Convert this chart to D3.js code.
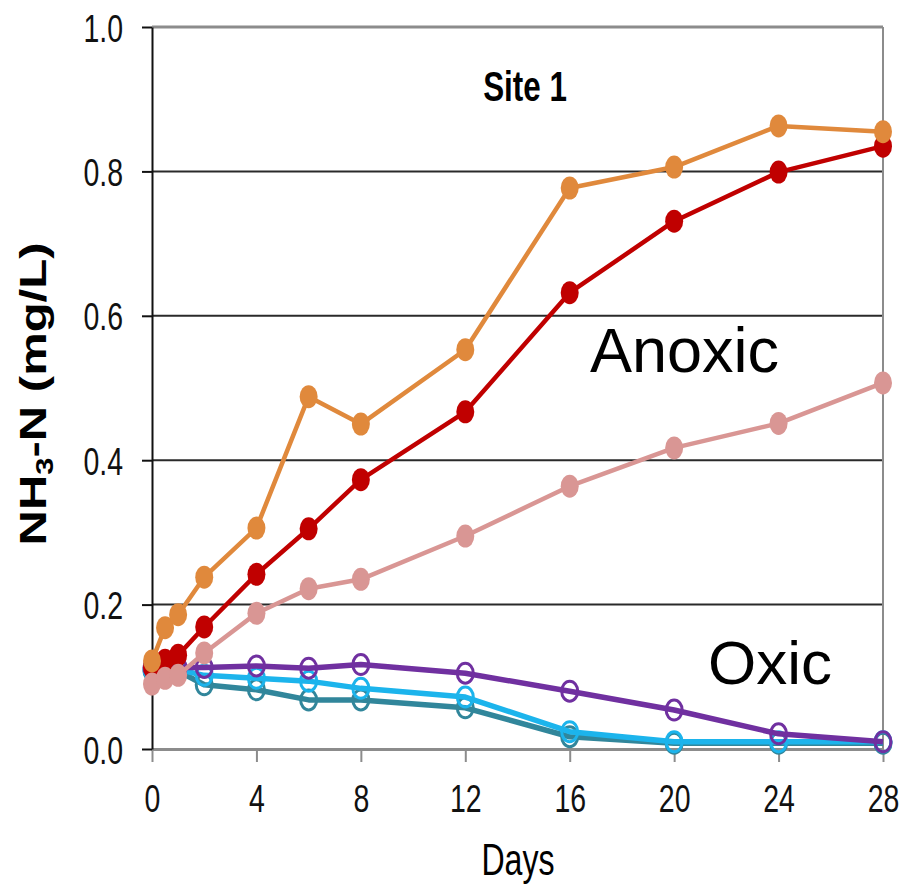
<!DOCTYPE html>
<html>
  <head>
    <meta charset="utf-8">
    <title>Site 1</title>
    <script src="https://d3js.org/d3.v7.min.js"></script>
    <style>
      body { margin: 0; background: #fff; }
      text { font-family: "Liberation Sans", Arial, sans-serif; }
    </style>
  </head>
  <body>
    <div id="chart"></div>
    <script>
      // data
      var days = [0, 0.5, 1, 2, 4, 6, 8, 12, 16, 20, 24, 28];
      var xTicks = [0, 4, 8, 12, 16, 20, 24, 28];
      var yTicks = [0, 0.2, 0.4, 0.6, 0.8, 1.0];

      // anoxic (filled markers)
      var anoxicRed    = [0.113, 0.123, 0.130, 0.169, 0.242, 0.305, 0.373, 0.467, 0.632, 0.731, 0.799, 0.835];
      var anoxicPink   = [0.090, 0.098, 0.102, 0.133, 0.188, 0.222, 0.235, 0.295, 0.364, 0.417, 0.451, 0.507];
      var anoxicOrange = [0.122, 0.168, 0.186, 0.238, 0.306, 0.488, 0.450, 0.553, 0.777, 0.806, 0.863, 0.855];

      // oxic (open markers)
      var oxicTeal   = [0.108, 0.108, 0.108, 0.089, 0.082, 0.068, 0.068, 0.057, 0.017, 0.008, 0.008, 0.008];
      var oxicBlue   = [0.110, 0.110, 0.110, 0.102, 0.098, 0.094, 0.084, 0.072, 0.024, 0.010, 0.010, 0.010];
      var oxicPurple = [0.113, 0.113, 0.113, 0.113, 0.115, 0.112, 0.117, 0.105, 0.080, 0.054, 0.021, 0.010];

      var series = [
        {values: oxicTeal,     color: "#31869b", filled: false},
        {values: oxicBlue,     color: "#1cb4ec", filled: false},
        {values: oxicPurple,   color: "#7030a0", filled: false},
        {values: anoxicRed,    color: "#c00000", filled: true},
        {values: anoxicPink,   color: "#d99694", filled: true},
        {values: anoxicOrange, color: "#e0893c", filled: true}
      ];

      var W = 904, H = 887;
      var plotL = 152, plotR = 883, plotT = 27, plotB = 749;
      var sx = 0.73; // original picture is squeezed horizontally

      var x = d3.scaleLinear().domain([0, 28]).range([plotL, plotR]);
      var y = d3.scaleLinear().domain([0, 1]).range([plotB, plotT]);

      var svg = d3.select("#chart").append("svg")
        .attr("width", W)
        .attr("height", H);

      // gridlines
      svg.append("g")
        .selectAll("line")
        .data([0.2, 0.4, 0.6, 0.8])
        .enter().append("line")
        .attr("x1", plotL).attr("x2", plotR)
        .attr("y1", d => y(d)).attr("y2", d => y(d))
        .attr("stroke", "#2a2a2a")
        .attr("stroke-width", 2);

      // top and right border (gray)
      svg.append("line")
        .attr("x1", plotL).attr("x2", plotR)
        .attr("y1", y(1)).attr("y2", y(1))
        .attr("stroke", "#8c8c8c").attr("stroke-width", 3);
      svg.append("line")
        .attr("x1", plotR).attr("x2", plotR)
        .attr("y1", y(1)).attr("y2", y(0))
        .attr("stroke", "#8c8c8c").attr("stroke-width", 2);

      // x axis
      var xAxis = svg.append("g")
        .attr("transform", "translate(0," + plotB + ")")
        .call(d3.axisBottom(x).tickValues(xTicks).tickSize(13).tickSizeOuter(0));
      xAxis.select(".domain").attr("stroke", "#8c8c8c").attr("stroke-width", 3);
      xAxis.selectAll(".tick line").attr("stroke", "#8c8c8c").attr("stroke-width", 2);
      xAxis.selectAll(".tick text")
        .attr("y", null).attr("dy", null)
        .attr("transform", "translate(0,63) scale(" + sx + ",1)")
        .attr("font-size", 39)
        .attr("fill", "#111")
        .attr("font-family", "Liberation Sans, Arial, sans-serif");

      // y axis
      var yAxis = svg.append("g")
        .attr("transform", "translate(" + plotL + ",0)")
        .call(d3.axisLeft(y).tickValues(yTicks).tickFormat(d3.format(".1f")).tickSize(10).tickSizeOuter(0));
      yAxis.select(".domain").attr("stroke", "#111").attr("stroke-width", 2);
      yAxis.selectAll(".tick line").attr("stroke", "#111").attr("stroke-width", 2);
      yAxis.selectAll(".tick text")
        .attr("x", null).attr("dy", null)
        .attr("transform", "translate(-29,14) scale(" + sx + ",1)")
        .attr("font-size", 39)
        .attr("fill", "#111")
        .attr("font-family", "Liberation Sans, Arial, sans-serif");

      // lines and markers
      var line = d3.line()
        .x((d, i) => x(days[i]))
        .y(d => y(d));

      series.forEach(function(s) {
        var g = svg.append("g");
        g.append("path")
          .datum(s.values)
          .attr("d", line)
          .attr("fill", "none")
          .attr("stroke", s.color)
          .attr("stroke-width", s.filled ? 4.5 : 5.5)
          .attr("stroke-linejoin", "round");
        g.selectAll("ellipse")
          .data(s.values)
          .enter().append("ellipse")
          .attr("cx", (d, i) => x(days[i]))
          .attr("cy", d => y(d))
          .attr("rx", s.filled ? 9 : 8)
          .attr("ry", s.filled ? 11.5 : 10)
          .attr("fill", s.filled ? s.color : "none")
          .attr("stroke", s.color)
          .attr("stroke-width", s.filled ? 0 : 3);
      });

      // title
      svg.append("text")
        .attr("transform", "translate(525,101) scale(" + sx + ",1)")
        .attr("text-anchor", "middle")
        .attr("font-size", 43)
        .attr("font-weight", "bold")
        .text("Site 1");

      // annotations
      svg.append("text")
        .attr("x", 590).attr("y", 372)
        .attr("font-size", 63)
        .text("Anoxic");
      svg.append("text")
        .attr("x", 708).attr("y", 684)
        .attr("font-size", 62)
        .text("Oxic");

      // axis titles
      svg.append("text")
        .attr("transform", "translate(518,875) scale(" + sx + ",1)")
        .attr("text-anchor", "middle")
        .attr("font-size", 44)
        .text("Days");

      var yl = svg.append("text")
        .attr("transform", "translate(46,394) scale(0.76,1) rotate(-90)")
        .attr("text-anchor", "middle")
        .attr("font-size", 49)
        .attr("font-weight", "bold");
      yl.append("tspan").text("NH");
      yl.append("tspan").attr("font-size", 31).attr("dy", 9).text("3");
      yl.append("tspan").attr("dy", -9).text("-N (mg/L)");
    </script>
  </body>
</html>
